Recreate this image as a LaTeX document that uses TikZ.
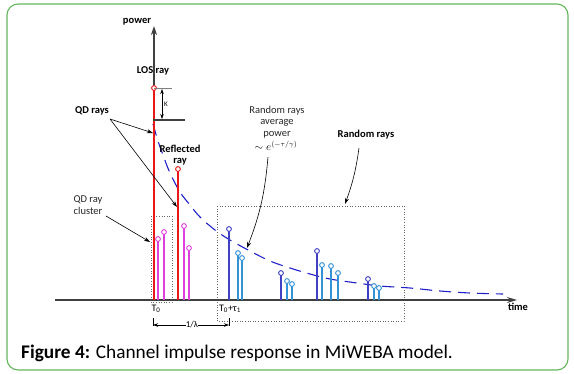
\documentclass[tikz,border=0pt]{standalone}
\usepackage{fontspec}
\setmainfont{Carlito}
\usetikzlibrary{arrows.meta}
\definecolor{bordergreen}{RGB}{100,182,92}
\definecolor{losred}{RGB}{232,24,24}
\definecolor{qdmag}{RGB}{222,64,222}
\definecolor{rdark}{RGB}{64,64,196}
\definecolor{rlight}{RGB}{52,146,214}
\definecolor{curveblue}{RGB}{32,32,200}
\definecolor{axisgray}{RGB}{64,64,64}
\begin{document}
\begin{tikzpicture}[x=1pt,y=-1pt,
  lbl/.style={font=\fontsize{10.5}{11.5}\selectfont, inner sep=0.5pt, align=center},
  blbl/.style={lbl, font=\fontsize{10.5}{11.5}\selectfont\bfseries},
  stem/.style={line width=1.4pt},
  raymark/.style={draw=#1, circle, fill=white, inner sep=0pt, minimum size=4.8pt, line width=0.9pt},
  axis/.style={axisgray, line width=1.3pt},
  pointer/.style={black, line width=0.6pt, -{Stealth[length=6pt,width=4pt]}},
  dimline/.style={black, line width=0.5pt},
  clusterbox/.style={draw=gray!80!black, dotted, line width=0.6pt}]
\useasboundingbox (0,0) rectangle (574,373);
% border
\draw[bordergreen, line width=1.1pt, rounded corners=11pt] (7,4) rectangle (568,370);
% caption
\node[anchor=west, inner sep=0pt, font=\fontsize{19.3}{22}\selectfont] (cap) at (21,353) {\textbf{Figure 4:} Channel impulse response in MiWEBA model.};
% boxes
\draw[clusterbox] (151,216) rectangle (172,302);
\draw[clusterbox] (217,206) rectangle (404,321);
% axes
\coordinate (o) at (154,300);
\coordinate (xl) at (55,300);
\coordinate (xr) at (517,300);
\coordinate (yt) at (154,26);
\draw[axis] (xl) -- (o);
\draw[axisgray, line width=1.2pt, -{Stealth[length=9pt,width=6pt]}] (o) -- (yt);
\draw[axisgray, -{Stealth[length=10pt,width=6pt]}, line width=1.3pt] (o) -- (xr);
\node[blbl] (power) at (137,22) {power};
\node[blbl] (time) at (518,307) {time};
% decay curve
\draw[curveblue, line width=1.1pt, dash pattern=on 12pt off 7pt]
  plot[smooth, tension=0.6] coordinates {(153,124) (158,141) (163,155) (170,173) (180,192) (190,205) (200,217) (215,230) (230,240) (250,251) (270,261) (290,268) (310,274) (330,279) (357,283) (380,286) (410,288) (440,291) (470,293) (503,294)};
% LOS ray
\draw[losred, stem] (154,300) -- (154,88) node[raymark=losred] (los) {};
\node[blbl] (loslbl) at (153,71) {LOS ray};
% K dimension
\coordinate (kt1) at (154,88); \coordinate (kt2) at (172,88);
\coordinate (kb1) at (153,120); \coordinate (kb2) at (185,120);
\draw[gray, line width=0.6pt] (kt1) -- (kt2);
\draw[axisgray, line width=1.1pt] (kb1) -- (kb2);
\coordinate (ka) at (162,89); \coordinate (kb) at (162,119);
\draw[dimline, {Stealth[length=5pt,width=3.5pt]}-{Stealth[length=5pt,width=3.5pt]}] (ka) -- (kb);
\node[lbl, font=\fontsize{7}{8}\selectfont] (K) at (166,104) {K};
% reflected ray
\draw[losred, stem] (178,300) -- (178,169) node[raymark=losred] (refl) {};
\node[blbl] (refllbl) at (180,155) {Reflected\\ray};
% QD cluster rays
\foreach \x/\y [count=\i] in {158/239, 164/232, 184/226, 189/248}
  \draw[qdmag, stem] (\x,300) -- (\x,\y) node[raymark=qdmag] (qd\i) {};
% random rays
\foreach \x/\y/\c [count=\i] in {229/229/rdark, 238/253/rlight, 242/258/rlight,
                      281/273/rdark, 287/281/rlight, 292/284/rlight,
                      317/251/rdark, 322/265/rlight, 331/266/rlight, 338/273/rlight,
                      368/279/rdark, 374/286/rlight, 379/288/rlight}
  \draw[\c, stem] (\x,300) -- (\x,\y) node[raymark=\c] (rr\i) {};
% labels and pointers
\node[blbl] (qd) at (92,111) {QD rays};
\coordinate (qds) at (110,119);
\coordinate (qdt1) at (153,133);
\coordinate (qdt2) at (177,207);
\draw[pointer] (qds) -- (qdt1);
\draw[pointer] (qds) -- (qdt2);
\node[lbl, gray!30!black] (qdc) at (88,205) {QD ray\\cluster};
\coordinate (qdcs) at (106,216);
\coordinate (qdct) at (150,242);
\draw[pointer] (qdcs) -- (qdct);
\node[lbl, align=center, gray!30!black] (avg) at (277,122) {Random rays\\average\\power};
\node[lbl] (expr) at (276,146) {$\sim e^{(-\tau/\gamma)}$};
\coordinate (avgs) at (268,157);
\coordinate (avgt) at (247,248);
\draw[pointer] (avgs) to[bend left=8] (avgt);
\node[blbl] (rr) at (366,135) {Random rays};
\coordinate (rrs) at (359,148);
\coordinate (rrt) at (345,204);
\draw[pointer] (rrs) to[bend left=6] (rrt);
% time labels
\node[lbl, font=\fontsize{10}{11}\selectfont] (t0) at (156,309) {T\textsubscript{0}};
\node[lbl, font=\fontsize{10}{11}\selectfont] (t1) at (230,309) {T\textsubscript{0}+τ\textsubscript{1}};
% 1/lambda dimension
\coordinate (la) at (153,318); \coordinate (lb) at (153,326);
\coordinate (lc) at (229,318); \coordinate (ld) at (229,326);
\draw[dimline] (la) -- (lb);
\draw[dimline] (lc) -- (ld);
\coordinate (l1) at (153,325); \coordinate (l2) at (229,325);
\draw[dimline, {Stealth[length=5pt,width=3.5pt]}-{Stealth[length=5pt,width=3.5pt]}] (l1) -- (l2);
\node[lbl, font=\fontsize{9}{10}\selectfont, fill=white, inner sep=0.3pt] (lam) at (192,325) {1/λ};
\end{tikzpicture}
\end{document}
